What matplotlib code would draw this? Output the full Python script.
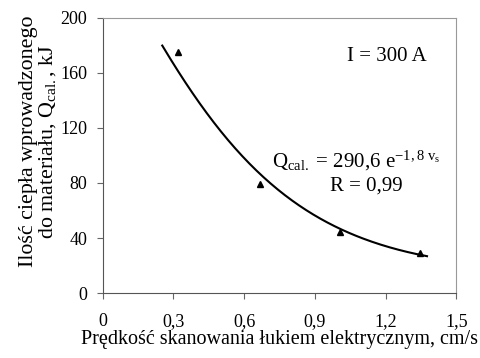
import numpy as np
import matplotlib
matplotlib.use("Agg")
import matplotlib.pyplot as plt

plt.rcParams["font.family"] = ["Liberation Serif", "DejaVu Serif"]
plt.rcParams["mathtext.fontset"] = "custom"
plt.rcParams["mathtext.rm"] = "Liberation Serif"
plt.rcParams["mathtext.it"] = "Liberation Serif"

# measured points
speed = [0.32, 0.667, 1.006, 1.345]
heat = [175, 79.5, 44.7, 29]

# points
trend_x = [0.2525, 0.391, 0.518, 0.54, 0.624, 0.709, 0.794, 0.879, 1.006, 1.175, 1.375]
trend_y = [176.6, 147.5, 113.6, 108.9, 94.3, 79.5, 66.5, 59.2, 46.4, 36.3, 26.6]

x_ticks = [0, 0.3, 0.6, 0.9, 1.2, 1.5]
x_labels = ["0", "0,3", "0,6", "0,9", "1,2", "1,5"]
y_ticks = [0, 40, 80, 120, 160, 200]

# smooth the read-off curve (cubic in log space)
coef = np.polyfit(trend_x, np.log(trend_y), 3)
xs = np.linspace(trend_x[0], trend_x[-1], 150)
ys = np.exp(np.polyval(coef, xs))

fig = plt.figure(figsize=(4.8, 3.58), dpi=100)
ax = fig.add_axes([0.214, 0.181, 0.737, 0.77])

ax.plot(xs, ys, color="black", lw=1.5)
ax.plot(speed, heat, "^", color="black", ms=4.5)

ax.set_xlim(0, 1.5)
ax.set_ylim(0, 200)
ax.set_xticks(x_ticks)
ax.set_xticklabels(x_labels)
ax.set_yticks(y_ticks)
ax.tick_params(labelsize=13, direction="out", color="#666666")
ax.tick_params(axis="x", length=4, pad=10)
ax.tick_params(axis="y", length=4.5, pad=6.5)

for s in ["top", "right"]:
    ax.spines[s].set_color("#999999")
for s in ["left", "bottom"]:
    ax.spines[s].set_color("#555555")

ax.set_xlabel("Prędkość skanowania łukiem elektrycznym, cm/s", fontsize=14.5, labelpad=0)
ax.set_ylabel("Ilość ciepła wprowadzonego\ndo materiału, $\\mathregular{Q_{cal.}}$, kJ",
              fontsize=15.8, labelpad=2, linespacing=0.95)
ax.yaxis.label.set_y(0.55)

ax.text(1.206, 168.5, "I = 300 A", fontsize=15, ha="center", va="baseline")
ax.text(1.076, 91.5, "$\\mathregular{Q_{cal.}}$ = 290,6 e$^{\\mathregular{-1,8\\ v_s}}$",
        fontsize=15, ha="center", va="baseline")
ax.text(1.118, 74.7, "R = 0,99", fontsize=15, ha="center", va="baseline")

fig.savefig("out.png", dpi=100)
